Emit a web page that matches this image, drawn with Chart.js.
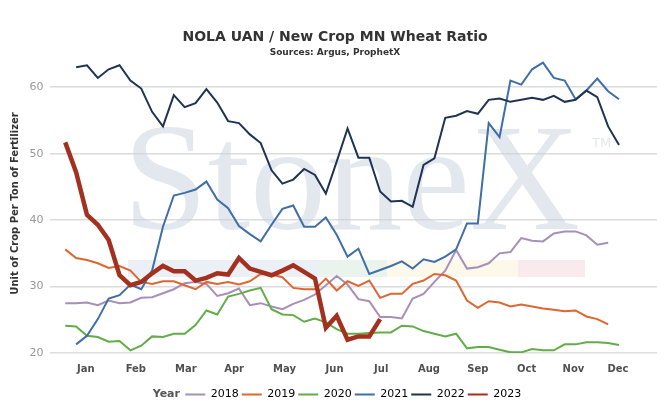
<!DOCTYPE html>
<html>
<head>
<meta charset="utf-8">
<script src="https://cdn.jsdelivr.net/npm/chart.js@4.4.0/dist/chart.umd.min.js"></script>
<style>
  html, body { margin: 0; padding: 0; background: #fff; }
</style>
</head>
<body>
<canvas id="Chart" width="670" height="420"></canvas>
<script>
// semanas do ano (eixo x)
const weeks = [1, 2, 3, 4, 5, 6, 7, 8, 9, 10, 11, 12, 13, 14, 15, 16, 17, 18, 19, 20,
  21, 22, 23, 24, 25, 26, 27, 28, 29, 30, 31, 32, 33, 34, 35, 36, 37, 38, 39, 40,
  41, 42, 43, 44, 45, 46, 47, 48, 49, 50, 51, 52];

// rotulos dos meses e onde ficam (em semanas)
const months = ['Jan', 'Feb', 'Mar', 'Apr', 'May', 'Jun', 'Jul', 'Aug', 'Sep', 'Oct', 'Nov', 'Dec'];
const monthWeeks = [2.9, 7.5, 12.1, 16.55, 21.2, 25.8, 30.1, 34.5, 39.0, 43.5, 47.8, 51.9];

const years = ['2018', '2019', '2020', '2021', '2022', '2023'];

const v2018 = [27.5, 27.5, 27.6, 27.2, 27.9, 27.5, 27.6, 28.3, 28.4, 29.0,
  29.6, 30.5, 30.7, 30.4, 28.6, 29.0, 29.7, 27.2, 27.5, 27.0,
  26.6, 27.4, 28.0, 28.8, 30.2, 31.6, 30.3, 28.1, 27.8, 25.4,
  25.4, 25.2, 28.2, 28.9, 30.7, 32.4, 35.5, 32.7, 32.9, 33.5,
  35.0, 35.2, 37.3, 36.9, 36.8, 38.0, 38.3, 38.3, 37.7, 36.3,
  36.6, null];

const v2019 = [35.6, 34.3, 34.0, 33.5, 32.8, 33.1, 32.4, 30.7, 30.4, 30.8,
  30.8, 30.2, 29.6, 30.7, 30.4, 30.7, 30.3, 30.8, 31.9, 31.8,
  31.4, 29.8, 29.6, 29.6, 31.2, 29.4, 30.8, 30.1, 30.9, 28.3,
  28.9, 28.9, 30.4, 30.9, 31.9, 31.7, 30.9, 27.9, 26.8, 27.8,
  27.6, 27.0, 27.3, 27.0, 26.7, 26.5, 26.3, 26.4, 25.5, 25.1,
  24.3, null];

const v2020 = [24.1, 24.0, 22.6, 22.4, 21.7, 21.8, 20.4, 21.1, 22.5, 22.4,
  22.9, 22.9, 24.2, 26.4, 25.8, 28.5, 28.9, 29.4, 29.8, 26.6,
  25.8, 25.7, 24.7, 25.2, 24.6, 23.6, 22.9, 22.9, 23.0, 23.1,
  23.1, 24.1, 24.0, 23.3, 22.9, 22.5, 22.9, 20.7, 20.9, 20.9,
  20.5, 20.1, 20.1, 20.6, 20.4, 20.4, 21.3, 21.3, 21.6, 21.6,
  21.5, 21.2];

const v2021 = [null, 21.3, 22.6, 25.1, 28.2, 28.7, 30.3, 29.6, 32.4, 39.0,
  43.7, 44.1, 44.6, 45.8, 43.1, 41.8, 39.1, 37.9, 36.8, 39.3,
  41.7, 42.2, 39.0, 39.0, 40.4, 37.8, 34.5, 35.7, 31.9, 32.5,
  33.1, 33.8, 32.7, 34.1, 33.7, 34.5, 35.6, 39.5, 39.5, 54.6,
  52.5, 61.0, 60.4, 62.7, 63.7, 61.4, 61.0, 58.2, 59.5, 61.3,
  59.4, 58.2];

const v2022 = [null, 63.0, 63.3, 61.4, 62.7, 63.3, 61.0, 59.8, 56.3, 54.1,
  58.8, 57.0, 57.6, 59.7, 57.7, 54.9, 54.6, 52.9, 51.6, 47.5,
  45.5, 46.1, 47.7, 46.8, 44.0, 48.8, 53.8, 49.4, 49.4, 44.3,
  42.8, 42.9, 42.0, 48.3, 49.3, 55.4, 55.7, 56.4, 56.0, 58.1,
  58.3, 57.8, 58.1, 58.4, 58.1, 58.7, 57.8, 58.1, 59.5, 58.5,
  54.1, 51.3];

const v2023 = [51.7, 47.2, 40.8, 39.3, 37.0, 31.7, 30.2, 30.7, 32.0, 33.1,
  32.3, 32.3, 30.9, 31.3, 32.0, 31.8, 34.3, 32.7, 32.2, 31.7,
  32.4, 33.2, 32.2, 31.2, 23.8, 25.6, 22.0, 22.5, 22.5, 25.1];

const series = [v2018, v2019, v2020, v2021, v2022, v2023];
const colors = ['#a78fb9', '#dd6631', '#62ad47', '#3f6ea8', '#1e3452', '#a4311f'];
const widths = [2, 2, 2, 2, 2, 4.5];

const datasets = series.map((vals, i) => ({
  label: years[i],
  data: vals.map((v, k) => ({x: weeks[k], y: v})),
  borderColor: colors[i],
  backgroundColor: colors[i],
  borderWidth: widths[i],
  pointRadius: 0,
  tension: 0,
  order: series.length - i
}));

// marca d'agua, titulo e "Year" da legenda
const decor = {
  id: 'decor',
  beforeDatasetsDraw(chart) {
    const ctx = chart.ctx;
    ctx.save();
    const bands = [[128, 320, '#ebf0f7'], [320, 387, '#eaf3ec'], [387, 518, '#fcf9ea'], [518, 585, '#f9eaed']];
    bands.forEach(b => {
      ctx.fillStyle = b[2];
      ctx.fillRect(b[0], 260, b[1] - b[0], 17);
    });
    ctx.font = '100px "Liberation Serif"';
    const w = ctx.measureText('StoneX').width;
    ctx.font = (100 * 457 / w) + 'px "Liberation Serif"';
    ctx.fillStyle = 'rgba(200, 208, 222, 0.5)';
    ctx.textBaseline = 'alphabetic';
    ctx.fillText('StoneX', 123, 229);
    ctx.font = '13px "DejaVu Sans"';
    ctx.fillText('TM', 592, 147);
    ctx.restore();
  },
  afterDraw(chart) {
    const ctx = chart.ctx;
    ctx.save();
    ctx.fillStyle = '#333';
    ctx.textAlign = 'center';
    ctx.textBaseline = 'middle';
    ctx.font = 'bold 14px "DejaVu Sans"';
    ctx.fillText('NOLA UAN / New Crop MN Wheat Ratio', 335, 37);
    ctx.font = 'bold 9px "DejaVu Sans"';
    ctx.fillText('Sources: Argus, ProphetX', 335, 53);
    ctx.fillStyle = '#555';
    ctx.textAlign = 'left';
    ctx.font = 'bold 11px "DejaVu Sans"';
    ctx.fillText('Year', 152.7, 394);
    ctx.restore();
  }
};

const config = {
  type: 'line',
  data: {datasets: datasets},
  options: {
    responsive: false,
    animation: false,
    layout: {padding: {left: 0, right: 13, top: 54, bottom: 10}},
    plugins: {
      tooltip: {enabled: false},
      legend: {
        position: 'bottom',
        fullSize: false,
        labels: {
          boxWidth: 20,
          boxHeight: 2,
          padding: 3,
          color: '#666',
          font: {family: 'DejaVu Sans', size: 11},
          generateLabels: chart => chart.data.datasets.map((d, i) => ({
            text: d.label,
            fillStyle: d.borderColor,
            strokeStyle: d.borderColor,
            lineWidth: 0,
            hidden: false,
            datasetIndex: i
          }))
        }
      }
    },
    scales: {
      x: {
        type: 'linear',
        min: -0.45,
        max: 55.5,
        grid: {display: false},
        border: {display: false},
        afterBuildTicks: s => { s.ticks = monthWeeks.map(v => ({value: v})); },
        afterFit: s => { s.height = 33; },
        ticks: {
          autoSkip: false,
          maxRotation: 0,
          padding: 2,
          color: '#505050',
          font: {family: 'DejaVu Sans', size: 10, weight: 'bold'},
          callback: (v, i) => months[i]
        }
      },
      y: {
        min: 20,
        max: 65,
        afterFit: s => { s.width = 49.5; },
        grid: {color: '#dcdcdc', lineWidth: 1.5, drawTicks: false},
        border: {display: false},
        ticks: {
          stepSize: 10,
          includeBounds: false,
          padding: 6,
          color: '#999',
          font: {family: 'DejaVu Sans', size: 11}
        },
        title: {
          display: true,
          text: 'Unit of Crop Per Ton of Fertilizer',
          color: '#333',
          font: {family: 'DejaVu Sans', size: 10, weight: 'bold'},
          padding: {top: 9, bottom: 0}
        }
      }
    }
  },
  plugins: [decor]
};

var myChart = new Chart(document.getElementById('Chart'), config);
</script>
</body>
</html>
